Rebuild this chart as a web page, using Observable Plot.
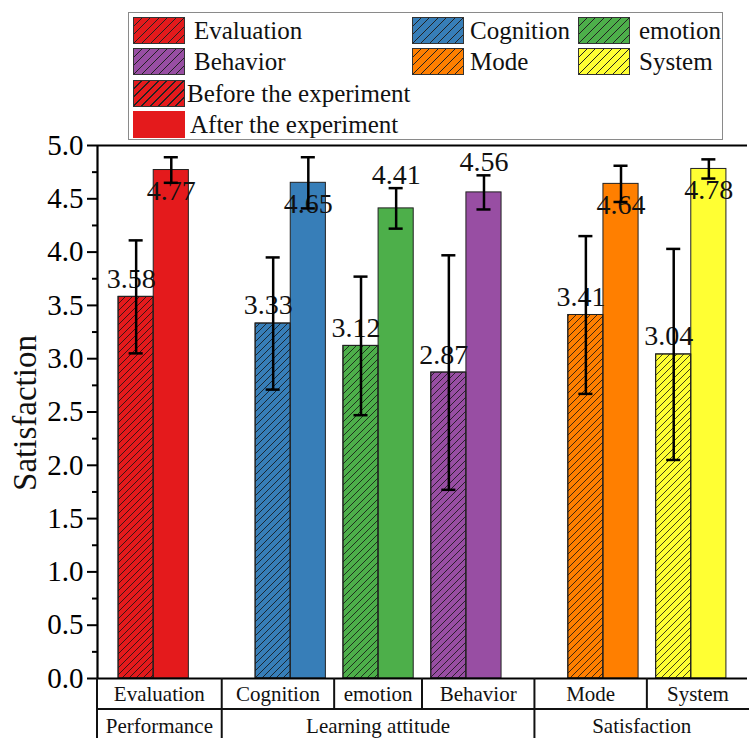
<!DOCTYPE html>
<html><head><meta charset="utf-8">
<script src="https://cdn.jsdelivr.net/npm/d3@7"></script>
<script src="https://cdn.jsdelivr.net/npm/@observablehq/plot@0.6"></script>
<style>
body{margin:0;background:#fff;font-family:"Liberation Serif","Times New Roman",Tinos,"DejaVu Serif","Noto Serif",serif;}
#wrap{position:relative;width:749px;height:738px;overflow:hidden;background:#fff;}
#legend{position:relative;width:749px;height:135px;}
.box{position:absolute;left:128px;top:12px;width:595px;height:128px;border:1px solid #8a8a8a;box-sizing:border-box;}
.sw{position:absolute;width:52px;height:27px;border:1px solid #333;box-sizing:border-box;}
.lt{position:absolute;font-size:25px;line-height:27px;color:#111;white-space:nowrap;}
#chart svg{display:block;overflow:visible;}
</style></head><body>
<div id="wrap"><div id="legend"><div class="box"></div></div><div id="chart"></div></div>
<script>
// ---- data ----
const categories = ["Evaluation","Cognition","emotion","Behavior","Mode","System"];
const groupOf = ["Performance","Learning attitude","Learning attitude","Learning attitude","Satisfaction","Satisfaction"];
const groupNames = ["Performance","Learning attitude","Satisfaction"];
const conditions = ["Before the experiment","After the experiment"];
const beforeValues = [3.58,3.33,3.12,2.87,3.41,3.04];
const beforeErrors = [0.53,0.62,0.65,1.10,0.74,0.99];
const afterValues  = [4.77,4.65,4.41,4.56,4.64,4.78];
const afterErrors  = [0.12,0.24,0.19,0.16,0.17,0.09];
const yTicks = [0,0.5,1,1.5,2,2.5,3,3.5,4,4.5,5];
const yMinorTicks = [0.25,0.75,1.25,1.75,2.25,2.75,3.25,3.75,4.25,4.75];
const yLabel = "Satisfaction";

const colors = d3.schemeSet1.slice(0, categories.length);
const FONT = '"Liberation Serif","Times New Roman",Tinos,"DejaVu Serif","Noto Serif",serif';

// ---- layout (in bar-width units) ----
const catStep = 2.5, groupGap = 1.4, pad = 0.6;
const centers = [];
let cur = pad + 1;
categories.forEach((c, i) => {
  if (i > 0) { cur += catStep; if (groupOf[i] !== groupOf[i - 1]) cur += groupGap; }
  centers.push(cur);
});
const xMax = centers[centers.length - 1] + 1 + pad;

const rows = categories.flatMap((c, i) => [
  {cat: c, cond: "before", v: beforeValues[i], e: beforeErrors[i], x1: centers[i] - 1, x2: centers[i], xc: centers[i] - 0.5},
  {cat: c, cond: "after", v: afterValues[i], e: afterErrors[i], x1: centers[i], x2: centers[i] + 1, xc: centers[i] + 0.5}
]);
const beforeRows = rows.filter(d => d.cond === "before");
const afterRows = rows.filter(d => d.cond === "after");
const afterAbove = afterRows.filter(d => d.v + d.e <= 4.75);
const afterInside = afterRows.filter(d => d.v + d.e > 4.75);

const fmt2 = d => d.v.toFixed(2);

const chart = Plot.plot({
  width: 749, height: 603,
  marginTop: 10, marginBottom: 60, marginLeft: 97, marginRight: 2,
  style: {fontFamily: FONT, fontSize: "27px", background: "white", color: "black"},
  x: {domain: [0, xMax], axis: null},
  y: {domain: [0, 5], axis: null},
  color: {domain: categories, range: colors},
  marks: [
    Plot.rectY(rows, {x1: "x1", x2: "x2", y1: 0, y2: "v", fill: "cat", stroke: "#222", strokeWidth: 1}),
    Plot.rectY(beforeRows, {x1: "x1", x2: "x2", y1: 0, y2: "v", fill: "url(#hatch)", stroke: "#222", strokeWidth: 1}),
    Plot.text(beforeRows, {x: "xc", y: "v", text: fmt2, dy: -18, dx: -5, fontSize: 28, fill: "#111"}),
    Plot.text(afterAbove, {x: "xc", y: d => d.v + d.e, text: fmt2, dy: -13, fontSize: 28, fill: "#111"}),
    Plot.text(afterInside, {x: "xc", y: "v", text: fmt2, dy: 21, fontSize: 28, fill: "#111"}),
    Plot.ruleX(rows, {x: "xc", y1: d => d.v - d.e, y2: d => d.v + d.e, stroke: "#000", strokeWidth: 2.5}),
    Plot.ruleY(rows, {y: d => d.v + d.e, x1: d => d.xc - 0.2, x2: d => d.xc + 0.2, stroke: "#000", strokeWidth: 2.5}),
    Plot.ruleY(rows, {y: d => d.v - d.e, x1: d => d.xc - 0.2, x2: d => d.xc + 0.2, stroke: "#000", strokeWidth: 2.5}),
    Plot.axisY({ticks: yTicks, tickFormat: d3.format(".1f"), tickSize: 10, tickPadding: 4, strokeWidth: 2, fontSize: 29, label: null}),
    Plot.axisY({ticks: yMinorTicks, tickFormat: () => "", tickSize: 5, strokeWidth: 2, label: null}),
    Plot.ruleX([0], {strokeWidth: 2.2}),
    Plot.ruleY([0], {strokeWidth: 2.2}),
    Plot.ruleY([5], {strokeWidth: 2.2})
  ]
});

// hatch pattern
const svgSel = d3.select(chart);
svgSel.style("font-family", FONT);
const defs = svgSel.insert("defs", ":first-child");
defs.append("pattern").attr("id", "hatch").attr("patternUnits", "userSpaceOnUse")
  .attr("width", 7).attr("height", 7)
  .append("path").attr("d", "M-1,1 L1,-1 M0,7 L7,0 M6,8 L8,6")
  .attr("stroke", "#111").attr("stroke-width", 0.8).attr("fill", "none");

// y label
svgSel.append("text").attr("transform", "translate(25,278) rotate(-90)")
  .attr("text-anchor", "middle").attr("dominant-baseline", "central")
  .attr("font-size", 33).attr("fill", "#111").text(yLabel);

// category table below the axis
const sx = chart.scale("x");
const px = v => sx.apply(v);
const left = 97, right = 749, yTop = 543, yMid = 574, yBot = 603;
const bounds = [left];
for (let i = 1; i < categories.length; i++) bounds.push(px((centers[i - 1] + centers[i]) / 2));
bounds.push(right);
const tg = svgSel.append("g").attr("stroke", "#111").attr("stroke-width", 2);
tg.append("line").attr("x1", left).attr("x2", right).attr("y1", yMid).attr("y2", yMid);
tg.append("line").attr("x1", left).attr("x2", left).attr("y1", yTop).attr("y2", yBot);
bounds.slice(1, -1).forEach((b, i) => {
  const groupBreak = groupOf[i] !== groupOf[i + 1];
  tg.append("line").attr("x1", b).attr("x2", b).attr("y1", yTop).attr("y2", groupBreak ? yBot : yMid);
});
const txt = svgSel.append("g").attr("font-size", 21).attr("fill", "#111").attr("text-anchor", "middle").attr("dominant-baseline", "central");
categories.forEach((c, i) => {
  txt.append("text").attr("x", (bounds[i] + bounds[i + 1]) / 2).attr("y", yTop + 16).text(c);
});
groupNames.forEach(g => {
  const idx = categories.map((c, i) => i).filter(i => groupOf[i] === g);
  const a = bounds[idx[0]], b = bounds[idx[idx.length - 1] + 1];
  txt.append("text").attr("x", (a + b) / 2).attr("y", yMid + 17).text(g);
});

document.getElementById("chart").appendChild(chart);

// ---- legend ----
const legend = document.getElementById("legend");
const colX = [133, 412, 578];
const rowTop = [17, 48, 80, 111];
const hatchCss = (w) => `repeating-linear-gradient(135deg, rgba(0,0,0,0) 0 ${6 - w}px, #222 ${6 - w}px 6px)`;
categories.forEach((c, i) => {
  const col = i % 3, row = Math.floor(i / 3);
  const sw = document.createElement("div");
  sw.className = "sw";
  sw.style.left = colX[col] + "px"; sw.style.top = rowTop[row] + "px";
  sw.style.background = hatchCss(0.8) + ", " + colors[i];
  legend.appendChild(sw);
  const t = document.createElement("div");
  t.className = "lt"; t.textContent = c;
  t.style.left = (colX[col] + (col === 1 ? 58 : 61)) + "px"; t.style.top = rowTop[row] + "px";
  legend.appendChild(t);
});
conditions.forEach((c, k) => {
  const sw = document.createElement("div");
  sw.className = "sw";
  sw.style.left = colX[0] + "px"; sw.style.top = rowTop[2 + k] + "px";
  if (k === 0) sw.style.background = hatchCss(1.6) + ", " + colors[0];
  else { sw.style.background = colors[0]; sw.style.borderColor = colors[0]; }
  legend.appendChild(sw);
  const t = document.createElement("div");
  t.className = "lt"; t.textContent = c;
  t.style.left = (colX[0] + 54 + k * 3) + "px"; t.style.top = rowTop[2 + k] + "px";
  legend.appendChild(t);
});
</script>
</body></html>
